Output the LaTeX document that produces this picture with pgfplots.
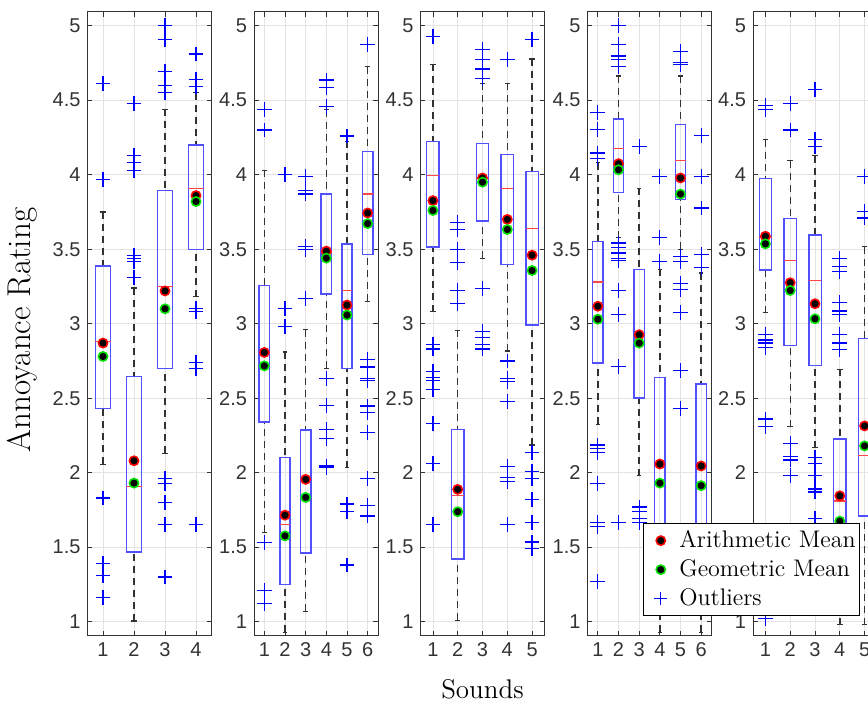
\documentclass[border=0pt]{standalone}
\usepackage{fontspec}
\usepackage{pgfplots}
\pgfplotsset{compat=1.18}
\usepgfplotslibrary{statistics}
\newfontfamily\ticksf{Liberation Sans}
\definecolor{boxblue}{RGB}{80,80,255}
\definecolor{whisk}{RGB}{50,50,50}
\definecolor{medred}{RGB}{255,70,70}
\definecolor{gmgreen}{RGB}{0,225,0}

\pgfplotsset{
  panel/.style={
    scale only axis, width=62pt, height=312pt, anchor=south west,
    ymin=0.906, ymax=5.094, xmin=0.5,
    ytick={1,1.5,2,2.5,3,3.5,4,4.5,5},
    yticklabels={1,1.5,2,2.5,3,3.5,4,4.5,5},
    grid=major, grid style={gray!22, line width=0.4pt},
    tick align=inside, major tick length=2.4pt,
    tick style={black!80, line width=0.4pt},
    axis line style={black!80, line width=0.5pt},
    ticklabel style={font=\ticksf\fontsize{10}{12}\selectfont, text=black!80},
    /pgf/number format/assume math mode=true,
    boxplot/draw direction=y,
    boxplot/box extend=0.5,
    boxplot/whisker extend=0.22,
    boxplot/every box/.style={draw=boxblue, line width=0.7pt},
    boxplot/every whisker/.style={draw=whisk, line width=0.7pt, dash pattern=on 3.5pt off 2.5pt},
    boxplot/every median/.style={draw=medred, line width=0.6pt},
    boxplot/draw/lower whisker/.code={%
      \draw[/pgfplots/boxplot/every whisker/.try]
        (boxplot box cs:\pgfplotsboxplotvalue{lower whisker},0.5) --
        (boxplot box cs:\pgfplotsboxplotvalue{lower quartile},0.5);
      \draw[draw=whisk, line width=0.6pt]
        (boxplot whisker cs:\pgfplotsboxplotvalue{lower whisker},0) --
        (boxplot whisker cs:\pgfplotsboxplotvalue{lower whisker},1);
    },
    boxplot/draw/upper whisker/.code={%
      \draw[/pgfplots/boxplot/every whisker/.try]
        (boxplot box cs:\pgfplotsboxplotvalue{upper whisker},0.5) --
        (boxplot box cs:\pgfplotsboxplotvalue{upper quartile},0.5);
      \draw[draw=whisk, line width=0.6pt]
        (boxplot whisker cs:\pgfplotsboxplotvalue{upper whisker},0) --
        (boxplot whisker cs:\pgfplotsboxplotvalue{upper whisker},1);
    },
  },
  am/.style={only marks, mark=*, mark size=2.3pt, forget plot,
    mark options={fill=black, draw=red, line width=0.8pt}},
  gm/.style={only marks, mark=*, mark size=2.3pt, forget plot,
    mark options={fill=black, draw=gmgreen, line width=0.8pt}},
  out/.style={blue, only marks, mark=+, mark size=3.7pt, forget plot,
    mark options={draw=blue, line width=0.6pt}},
}

% position, median, upper quartile, lower quartile, upper whisker, lower whisker
\newcommand{\bx}[6]{\addplot[forget plot, boxplot prepared={draw position=#1,
  median=#2, upper quartile=#3, lower quartile=#4,
  upper whisker=#5, lower whisker=#6}] coordinates {};}

\begin{document}
\begin{tikzpicture}
% ---- panel 1
\begin{axis}[panel, at={(43.75pt,33.15pt)}, xmax=4.5,
  xtick={1,2,3,4}, xticklabels={1,2,3,4},
  ylabel={Annoyance Rating},
  ylabel style={at={(axis description cs:-0.525,0.49)}, anchor=center,
    font=\fontsize{16.5}{18}\selectfont}]
\bx{1}{2.88}{3.386}{2.43}{3.75}{2.056}
\bx{2}{1.91}{2.646}{1.469}{3.24}{1.005}
\bx{3}{3.25}{3.895}{2.70}{4.44}{2.13}
\bx{4}{3.905}{4.20}{3.50}{4.55}{3.18}
\addplot[out] coordinates {(1,4.61) (1,3.97) (1,1.83) (1,1.39) (1,1.31) (1,1.16)
  (2,4.48) (2,4.13) (2,4.08) (2,4.03) (2,3.46) (2,3.44) (2,3.42) (2,3.31)
  (3,5.0) (3,4.91) (3,4.69) (3,4.60) (3,4.55) (3,1.96) (3,1.93) (3,1.80) (3,1.65) (3,1.30)
  (4,4.81) (4,4.64) (4,4.59) (4,3.10) (4,3.08) (4,2.74) (4,2.70) (4,1.65)};
\addplot[am] coordinates {(1,2.87) (2,2.08) (3,3.22) (4,3.86)};
\addplot[gm] coordinates {(1,2.78) (2,1.93) (3,3.10) (4,3.82)};
\end{axis}
% ---- panel 2
\begin{axis}[panel, at={(127pt,33.15pt)}, xmax=6.5,
  xtick={1,2,3,4,5,6}, xticklabels={1,2,3,4,5,6}]
\bx{1}{2.80}{3.257}{2.34}{4.03}{1.60}
\bx{2}{1.65}{2.10}{1.25}{2.81}{0.93}
\bx{3}{1.95}{2.287}{1.462}{2.96}{1.07}
\bx{4}{3.48}{3.87}{3.20}{4.435}{2.70}
\bx{5}{3.225}{3.536}{2.70}{4.223}{2.034}
\bx{6}{3.87}{4.156}{3.464}{4.725}{3.15}
\addplot[out] coordinates {(1,4.435) (1,4.30) (1,1.53) (1,1.21) (1,1.12)
  (2,4.0) (2,3.10) (2,2.98)
  (3,3.99) (3,3.895) (3,3.87) (3,3.52) (3,3.50) (3,3.17)
  (4,4.636) (4,4.587) (4,4.46) (4,2.63) (4,2.45) (4,2.29) (4,2.23) (4,2.045) (4,2.035)
  (5,4.26) (5,1.79) (5,1.74) (5,1.38)
  (6,4.875) (6,2.76) (6,2.71) (6,2.63) (6,2.62) (6,2.448) (6,2.406) (6,2.27) (6,1.962) (6,1.78) (6,1.71)};
\addplot[am] coordinates {(1,2.807) (2,1.715) (3,1.955) (4,3.487) (5,3.125) (6,3.743)};
\addplot[gm] coordinates {(1,2.717) (2,1.576) (3,1.834) (4,3.44) (5,3.058) (6,3.672)};
\end{axis}
% ---- panel 3
\begin{axis}[panel, at={(210.25pt,33.15pt)}, xmax=5.5,
  xtick={1,2,3,4,5}, xticklabels={1,2,3,4,5},
  xlabel={Sounds},
  xlabel style={at={(axis description cs:0.5,-0.0854)}, anchor=center,
    font=\fontsize{13.5}{15}\selectfont}]
\bx{1}{3.996}{4.223}{3.516}{4.74}{3.08}
\bx{2}{1.845}{2.29}{1.42}{2.955}{1.01}
\bx{3}{3.975}{4.21}{3.69}{4.614}{3.44}
\bx{4}{3.91}{4.134}{3.397}{4.614}{2.817}
\bx{5}{3.64}{4.02}{2.99}{4.777}{2.186}
\addplot[out] coordinates {(1,4.93) (1,2.86) (1,2.83) (1,2.68) (1,2.64) (1,2.62) (1,2.56) (1,2.33) (1,2.06) (1,1.65)
  (2,3.68) (2,3.63) (2,3.50) (2,3.41) (2,3.225) (2,3.135)
  (3,4.84) (3,4.775) (3,4.71) (3,4.647) (3,3.236) (3,2.95) (3,2.91) (3,2.86) (3,2.83)
  (4,4.775) (4,2.75) (4,2.63) (4,2.61) (4,2.48) (4,2.04) (4,1.97) (4,1.94) (4,1.65)
  (5,4.91) (5,2.135) (5,2.007) (5,1.96) (5,1.82) (5,1.666) (5,1.535) (5,1.49)};
\addplot[am] coordinates {(1,3.826) (2,1.888) (3,3.978) (4,3.70) (5,3.46)};
\addplot[gm] coordinates {(1,3.76) (2,1.738) (3,3.95) (4,3.632) (5,3.357)};
\end{axis}
% ---- panel 4
\begin{axis}[panel, at={(293.75pt,33.15pt)}, xmax=6.5,
  xtick={1,2,3,4,5,6}, xticklabels={1,2,3,4,5,6}]
\bx{1}{3.28}{3.55}{2.735}{4.08}{2.325}
\bx{2}{4.174}{4.373}{3.882}{4.663}{3.576}
\bx{3}{2.92}{3.364}{2.50}{3.91}{1.98}
\bx{4}{1.60}{2.64}{1.20}{3.364}{0.93}
\bx{5}{4.094}{4.335}{3.833}{4.663}{3.498}
\bx{6}{1.60}{2.596}{1.20}{3.34}{0.93}
\addplot[out] coordinates {(1,4.417) (1,4.306) (1,4.145) (1,4.11) (1,2.186) (1,2.164) (1,2.135) (1,1.93) (1,1.664) (1,1.64) (1,1.27)
  (2,5.0) (2,4.875) (2,4.797) (2,4.775) (2,4.725) (2,3.542) (2,3.51) (2,3.475) (2,3.44) (2,3.424) (2,3.223) (2,3.06) (2,2.713) (2,1.664)
  (3,4.19) (3,1.77) (3,1.738) (3,1.693) (3,1.664)
  (4,3.99) (4,3.58) (4,3.42)
  (5,4.826) (5,4.752) (5,4.737) (5,3.453) (5,3.42) (5,3.268) (5,3.23) (5,3.074) (5,2.686) (5,2.433)
  (6,4.264) (6,3.99) (6,3.777) (6,3.464) (6,3.375)};
\addplot[am] coordinates {(1,3.117) (2,4.074) (3,2.926) (4,2.058) (5,3.978) (6,2.045)};
\addplot[gm] coordinates {(1,3.03) (2,4.033) (3,2.87) (4,1.93) (5,3.87) (6,1.913)};
\end{axis}
% ---- panel 5
\begin{axis}[panel, at={(376.5pt,33.15pt)}, xmax=5.5,
  xtick={1,2,3,4,5}, xticklabels={1,2,3,4,5},
  legend style={at={(-0.8895,0.0316)}, anchor=south west, draw=black,
    line width=0.5pt, fill=white, font=\fontsize{12}{14}\selectfont,
    inner xsep=0pt, inner ysep=1.5pt, row sep=0.5pt,
    /tikz/every odd column/.style={column sep=-1.5pt}},
  legend cell align=left]
\bx{1}{3.58}{3.973}{3.36}{4.234}{3.074}
\bx{2}{3.426}{3.705}{2.854}{4.094}{2.31}
\bx{3}{3.288}{3.594}{2.72}{4.127}{2.168}
\bx{4}{1.81}{2.226}{1.30}{2.695}{0.98}
\bx{5}{2.114}{2.90}{1.71}{3.516}{0.98}
\addplot[out] coordinates {(1,4.462) (1,4.44) (1,2.93) (1,2.89) (1,2.87) (1,2.84) (1,2.36) (1,2.31) (1,1.02)
  (2,4.48) (2,4.30) (2,2.197) (2,2.108) (2,2.085) (2,1.98)
  (3,4.574) (3,4.234) (3,4.19) (3,2.10) (3,2.06) (3,1.98) (3,1.89) (3,1.87) (3,1.69)
  (4,3.435) (4,3.385) (4,3.35) (4,3.14) (4,3.085) (4,3.06) (4,2.93) (4,2.87) (4,2.825)
  (5,3.99) (5,3.755) (5,3.71)};
\addplot[am] coordinates {(1,3.587) (2,3.275) (3,3.134) (4,1.845) (5,2.314)};
\addplot[gm] coordinates {(1,3.536) (2,3.223) (3,3.033) (4,1.675) (5,2.18)};
\addlegendimage{white, mark=*, mark size=2.3pt, mark options={fill=black, draw=red, line width=0.8pt}}
\addlegendentry{Arithmetic Mean}
\addlegendimage{white, mark=*, mark size=2.3pt, mark options={fill=black, draw=gmgreen, line width=0.8pt}}
\addlegendentry{Geometric Mean}
\addlegendimage{white, mark=+, mark size=3.2pt, mark options={draw=blue, line width=0.5pt}}
\addlegendentry{Outliers}
\end{axis}
\pgfresetboundingbox
\path[use as bounding box] (0,0) rectangle (434pt,351pt);
\end{tikzpicture}
\end{document}
